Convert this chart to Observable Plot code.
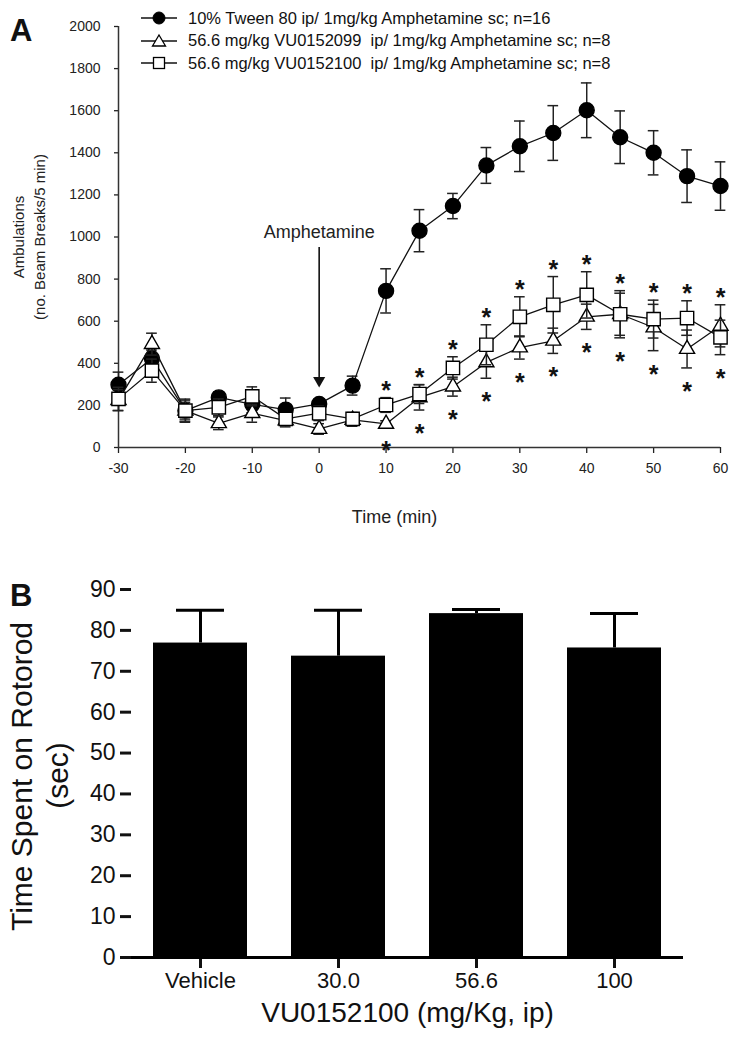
<!DOCTYPE html>
<html><head><meta charset="utf-8">
<script src="https://cdn.jsdelivr.net/npm/d3@7"></script>
<script src="https://cdn.jsdelivr.net/npm/@observablehq/plot@0.6"></script>
<style>
body{margin:0;background:#fff;font-family:"Liberation Sans",Arial,sans-serif;}
#wrap{position:relative;width:733px;height:1050px;overflow:hidden;}
.letter{position:absolute;font-weight:bold;font-size:31px;line-height:1;color:#111;z-index:2;}
#legend{position:absolute;left:141px;top:7px;font-size:16.5px;color:#111;z-index:2;}
.row{height:22.5px;display:flex;align-items:center;white-space:pre;}
.row svg{margin-right:11px;flex:none;}
#pa{position:absolute;left:0;top:0;}
#pb{position:absolute;left:0;top:545px;}
</style></head>
<body><div id="wrap">
<div id="pa"></div><div id="pb"></div>
<div class="letter" style="left:10px;top:15px">A</div>
<div class="letter" style="left:10px;top:580px">B</div>
<div id="legend"></div>
</div>
<script>
// ---------- Panel A data ----------
const times = [-30,-25,-20,-15,-10,-5,0,5,10,15,20,25,30,35,40,45,50,55,60];
const vehicleMean = [298,423,175,238,205,180,207,294,744,1030,1147,1340,1431,1494,1602,1474,1400,1289,1242];
const vehicleSem  = [60,40,50,25,40,55,20,45,105,100,60,85,120,130,130,125,105,125,115];
const vu099Mean   = [225,491,175,115,163,128,88,131,112,238,289,404,475,507,621,633,570,468,578];
const vu099Sem    = [50,52,40,30,43,30,25,30,15,60,45,75,55,60,60,100,110,90,100];
const vu100Mean   = [231,365,175,191,243,136,163,136,202,254,378,488,621,678,725,633,610,615,523];
const vu100Sem    = [55,55,55,40,45,25,35,30,35,45,53,95,95,134,110,112,90,82,82];
const seriesNames = [
  "10% Tween 80 ip/ 1mg/kg Amphetamine sc; n=16",
  "56.6 mg/kg VU0152099  ip/ 1mg/kg Amphetamine sc; n=8",
  "56.6 mg/kg VU0152100  ip/ 1mg/kg Amphetamine sc; n=8"
];
const starTimes = [10,15,20,25,30,35,40,45,50,55,60];
const xTicksA = [-30,-20,-10,0,10,20,30,40,50,60];
const yTicksA = [0,200,400,600,800,1000,1200,1400,1600,1800,2000];
const arrowLabel = ["Amphetamine"];
const arrowTime = [0];
const arrowSpan = [950, 318]; // shaft start, head (data units)
const arrowLabelY = [1021];

// ---------- Panel B data ----------
const doses = ["Vehicle","30.0","56.6","100"];
const rotorodMean = [76.9, 73.7, 84.1, 75.7];
const rotorodSem  = [8.0, 11.2, 1.0, 8.4];
const yTicksB = [0,10,20,30,40,50,60,70,80,90];

// ---------- Build tables ----------
const mk = (m, s) => times.map((t,i)=>({t, v:m[i], se:s[i]}));
const series = [
  {data: mk(vehicleMean, vehicleSem), symbol:"circle", fill:"#000", r:7.5},
  {data: mk(vu099Mean, vu099Sem), symbol:"triangle", fill:"#fff", r:5.6},
  {data: mk(vu100Mean, vu100Sem), symbol:"square", fill:"#fff", r:7.5}
];
const starsAbove = starTimes.map(t => { const i = times.indexOf(t);
  return {t, y: Math.max(vu099Mean[i]+vu099Sem[i], vu100Mean[i]+vu100Sem[i])}; });
const starsBelow = starTimes.map(t => { const i = times.indexOf(t);
  return {t, y: Math.min(vu099Mean[i]-vu099Sem[i], vu100Mean[i]-vu100Sem[i])}; });

const capW = 0.8;
const seriesMarks = series.flatMap(s => [
  Plot.ruleX(s.data, {x:"t", y1:d=>d.v-d.se, y2:d=>d.v+d.se, stroke:"#222", strokeWidth:1.5}),
  Plot.ruleY(s.data, {y:d=>d.v+d.se, x1:d=>d.t-capW, x2:d=>d.t+capW, stroke:"#222", strokeWidth:1.5}),
  Plot.ruleY(s.data, {y:d=>d.v-d.se, x1:d=>d.t-capW, x2:d=>d.t+capW, stroke:"#222", strokeWidth:1.5}),
  Plot.line(s.data, {x:"t", y:"v", stroke:"#111", strokeWidth:1.3}),
  Plot.dot(s.data, {x:"t", y:"v", symbol:s.symbol, r:s.r, fill:s.fill, stroke:"#000", strokeWidth:1.4})
]);

const fmt = d => String(d);
const plotA = Plot.plot({
  width:733, height:545,
  marginLeft:118, marginRight:13, marginTop:26, marginBottom:98,
  style:{fontFamily:'"Liberation Sans", Arial, sans-serif', fontSize:"14px", color:"#222", background:"transparent"},
  x:{domain:[-30,60]},
  y:{domain:[0,2000]},
  marks:[
    Plot.axisX({ticks:xTicksA, tickFormat:fmt, tickSize:6, tickPadding:10, label:null, strokeWidth:1.3}),
    Plot.axisY({ticks:yTicksA, tickFormat:fmt, tickSize:4, tickPadding:14, label:null, strokeWidth:1.3}),
    Plot.ruleY([0], {stroke:"#333", strokeWidth:1.5}),
    Plot.ruleX([-30], {y1:0, y2:2000, stroke:"#333", strokeWidth:1.5}),
    Plot.text(["Ambulations"], {frameAnchor:"left", textAnchor:"middle", dx:-99, rotate:-90, fontSize:15, fill:"#222"}),
    Plot.text(["(no. Beam Breaks/5 min)"], {frameAnchor:"left", textAnchor:"middle", dx:-78, rotate:-90, fontSize:15, fill:"#222"}),
    Plot.text(["Time (min)"], {frameAnchor:"bottom", dx:-25, dy:75, fontSize:18, fill:"#222"}),
    Plot.ruleX(arrowTime, {x:d=>d, y1:arrowSpan[0], y2:arrowSpan[1], stroke:"#111", strokeWidth:1.6}),
    Plot.dot(arrowTime, {x:d=>d, y:arrowSpan[1], symbol:"triangle", rotate:180, r:4.5, fill:"#111"}),
    Plot.text(arrowLabel, {x:arrowTime[0], y:arrowLabelY[0], text:d=>d, fontSize:18, fill:"#222"}),
    ...seriesMarks,
    Plot.text(starsAbove, {x:"t", y:"y", text:()=>"*", dy:-7, fontSize:25, fontWeight:"bold", fill:"#111"}),
    Plot.text(starsBelow, {x:"t", y:"y", text:()=>"*", dy:24, fontSize:25, fontWeight:"bold", fill:"#111"})
  ]
});
document.getElementById("pa").appendChild(plotA);

// ---------- Legend ----------
const legendSyms = [
  '<circle cx="18" cy="8" r="6" fill="#000" stroke="#000"/>',
  '<path d="M18,2 L24.5,13 L11.5,13 Z" fill="#fff" stroke="#000" stroke-width="1.3"/>',
  '<rect x="12.5" y="2.5" width="11" height="11" fill="#fff" stroke="#000" stroke-width="1.3"/>'
];
const leg = document.getElementById("legend");
seriesNames.forEach((name,i)=>{
  const row = document.createElement("div");
  row.className = "row";
  row.innerHTML = `<svg width="36" height="16"><line x1="0" x2="36" y1="8" y2="8" stroke="#111" stroke-width="1.5"/>${legendSyms[i]}</svg><span></span>`;
  row.querySelector("span").textContent = name;
  leg.appendChild(row);
});

// ---------- Panel B ----------
const rowsB = doses.map((d,i)=>({dose:d, mean:rotorodMean[i], sem:rotorodSem[i]}));
const plotB = Plot.plot({
  width:733, height:505,
  marginLeft:131, marginRight:50, marginTop:44, marginBottom:93,
  style:{fontFamily:'"Liberation Sans", Arial, sans-serif', fontSize:"23px", color:"#111", background:"transparent"},
  x:{domain:doses, paddingInner:0.32, paddingOuter:0.16},
  y:{domain:[0,90]},
  marks:[
    Plot.barY(rowsB, {x:"dose", y:"mean", fill:"#000"}),
    Plot.ruleX(rowsB, {x:"dose", y1:"mean", y2:d=>d.mean+d.sem, stroke:"#000", strokeWidth:3}),
    Plot.tickY(rowsB, {x:"dose", y:d=>d.mean+d.sem, stroke:"#000", strokeWidth:3, insetLeft:23, insetRight:23}),
    Plot.axisX({tickSize:11, tickPadding:4, label:null, strokeWidth:3, fontSize:22}),
    Plot.axisY({ticks:yTicksB, tickFormat:fmt, tickSize:11, tickPadding:5, label:null, strokeWidth:3, line:true}),
    Plot.ruleY([0], {stroke:"#000", strokeWidth:3}),
    Plot.text(["Time Spent on Rotorod"], {frameAnchor:"left", textAnchor:"middle", dx:-109, dy:3, rotate:-90, fontSize:30, fill:"#111"}),
    Plot.text(["(sec)"], {frameAnchor:"left", textAnchor:"middle", dx:-73, dy:2, rotate:-90, fontSize:30, fill:"#111"}),
    Plot.text(["VU0152100 (mg/Kg, ip)"], {frameAnchor:"bottom", dy:64, fontSize:28, fill:"#111"})
  ]
});
document.getElementById("pb").appendChild(plotB);
</script>
</body></html>
